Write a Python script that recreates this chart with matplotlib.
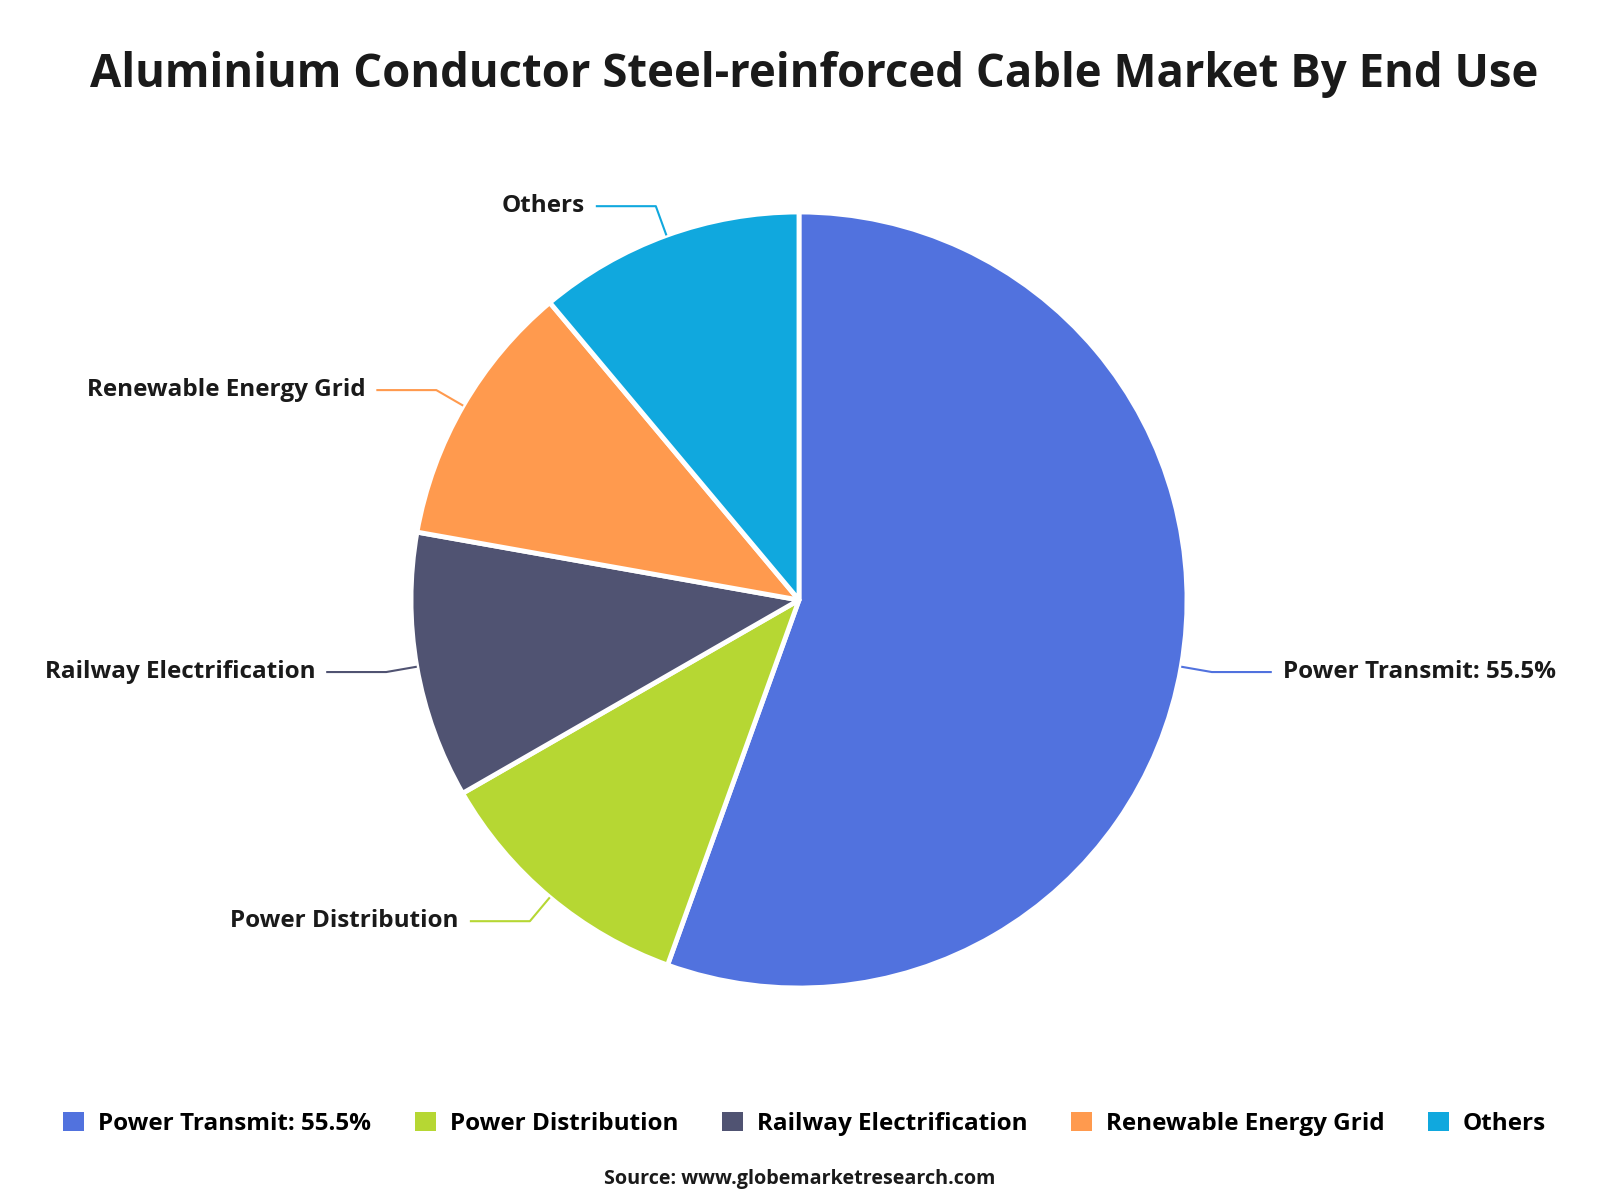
import numpy as np
import matplotlib
matplotlib.use("Agg")
import matplotlib.pyplot as plt
from matplotlib.patches import Patch

categories = ["Power Transmit", "Power Distribution", "Railway Electrification",
              "Renewable Energy Grid", "Others"]
values = [55.5, 11.2, 11.1, 11.1, 11.1]
colors = ["#5172DE", "#B6D733", "#505372", "#FF9A4E", "#10A8DE"]
labels = ["Power Transmit: 55.5%", "Power Distribution", "Railway Electrification",
          "Renewable Energy Grid", "Others"]

plt.rcParams['font.family'] = ['Open Sans', 'DejaVu Sans']

W, H = 1600, 1200
fig = plt.figure(figsize=(16, 12), dpi=100)
ax = fig.add_axes([0, 0, 1, 1])

cx, cy, R = 799, H - 600, 388
wedges, _ = ax.pie(values, colors=colors, startangle=90, counterclock=False,
                   center=(cx, cy), radius=R, frame=True,
                   wedgeprops=dict(edgecolor='white', linewidth=3.5, joinstyle='round'))
ax.set_xlim(0, W)
ax.set_ylim(0, H)
ax.set_aspect('equal')
ax.axis('off')

for w, lab, col in zip(wedges, labels, colors):
    ang = np.deg2rad((w.theta1 + w.theta2) / 2)
    x0, y0 = cx + R * np.cos(ang), cy + R * np.sin(ang)
    x1, y1 = cx + 1.08 * R * np.cos(ang), cy + 1.08 * R * np.sin(ang)
    side = 1 if np.cos(ang) >= 0 else -1
    x2 = x1 + side * 60
    ax.plot([x0, x1, x2], [y0, y1, y1], color=col, lw=1.5, solid_capstyle='butt')
    ax.text(x2 + side * 11, y1, lab, ha='left' if side > 0 else 'right',
            va='center', fontsize=17.5, fontweight='bold', color='#1a1a1a')

fig.text(814 / W, 1 - 74 / H, "Aluminium Conductor Steel-reinforced Cable Market By End Use",
         ha='center', va='center', fontsize=32.8, fontweight='bold', color='#1a1a1a')

handles = [Patch(facecolor=c, edgecolor='none') for c in colors]
fig.legend(handles, labels, loc='center', bbox_to_anchor=(0.503, 1 - 1124 / H),
           ncol=5, frameon=False, handlelength=0.85, handleheight=0.85,
           handletextpad=0.58, columnspacing=1.8, prop=dict(weight='bold', size=17.5))

fig.text(0.5, 1 - 1179 / H, "Source: www.globemarketresearch.com",
         ha='center', va='center', fontsize=14.2, fontweight='bold', color='#1a1a1a')

fig.savefig("out.png", dpi=100, facecolor='white')
